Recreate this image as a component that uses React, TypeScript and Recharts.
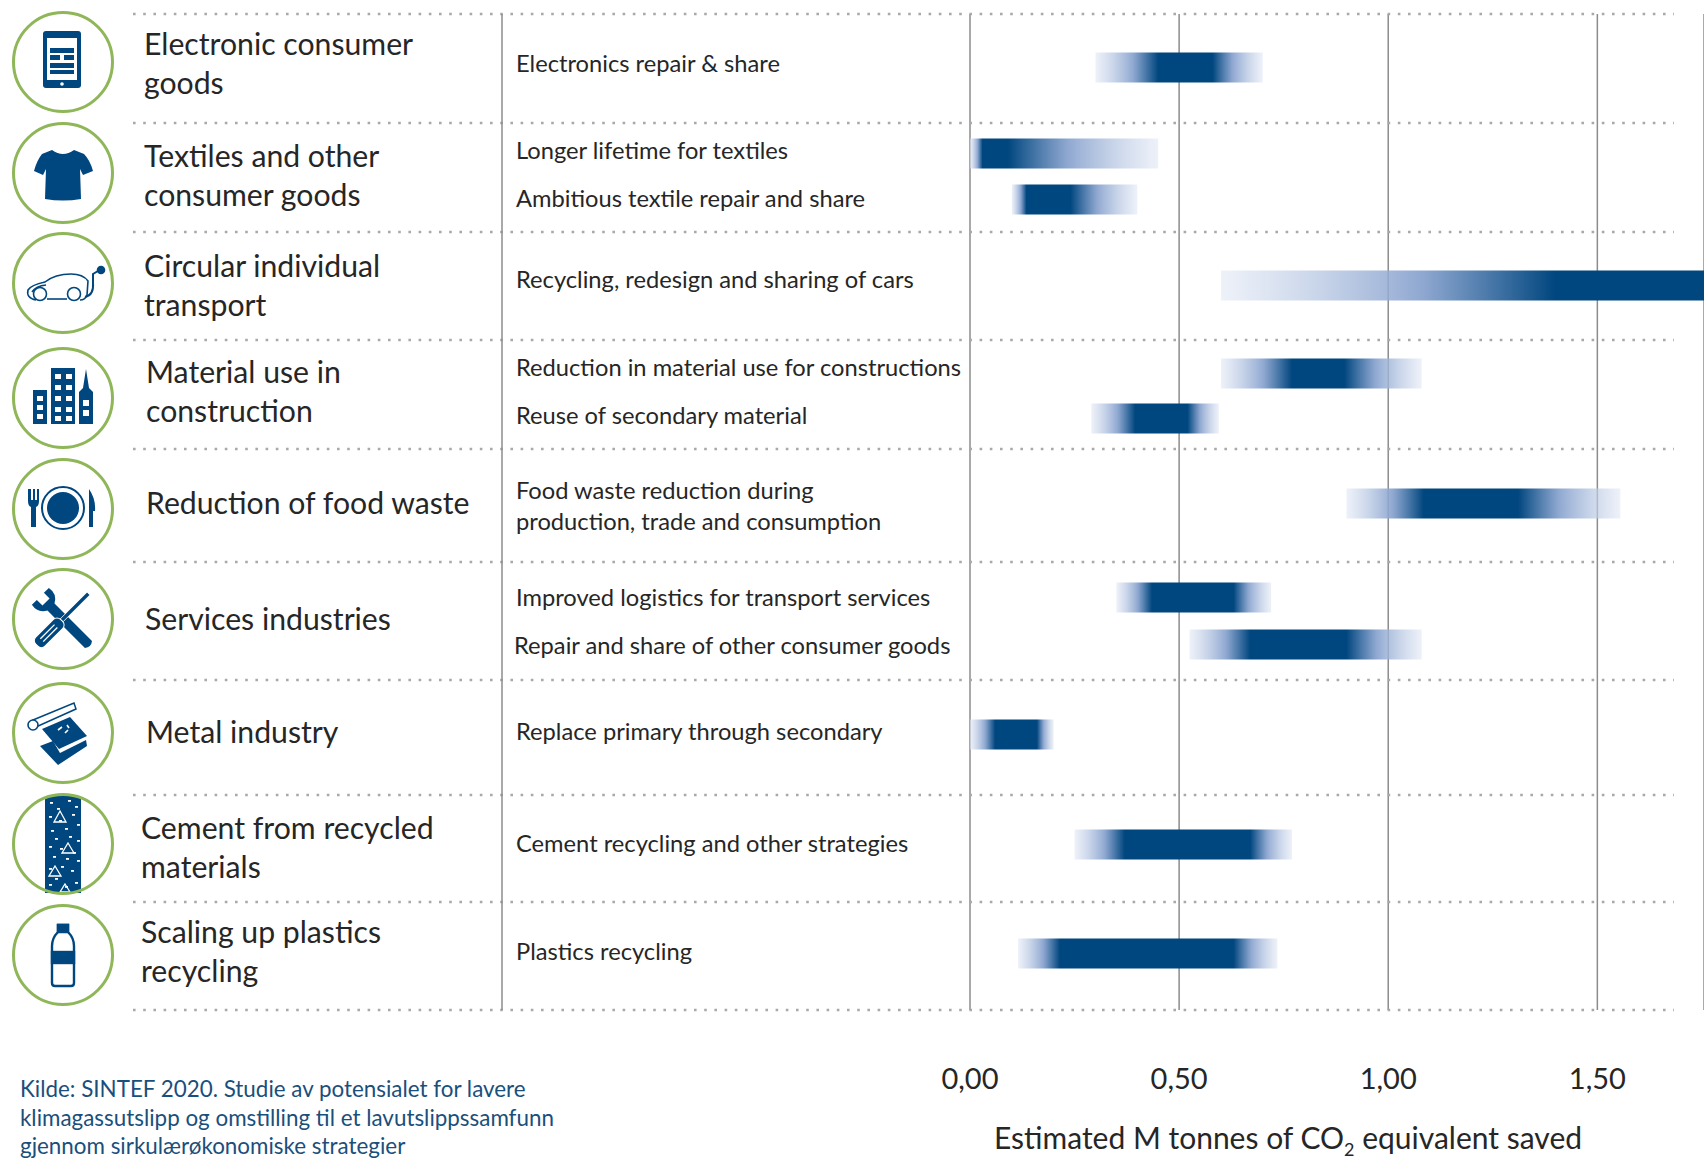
import React from "react";
import { ComposedChart, Bar, Cell, XAxis, YAxis, CartesianGrid } from "recharts";

const W = 1704;
const H = 1159;
const BLUE = "#00467f";
const GREEN = "#8fb659";
const FONT = "Lato, 'Open Sans', sans-serif";

// ---- data ----
const initiatives = [
  "Electronics repair & share",
  "Longer lifetime for textiles",
  "Ambitious textile repair and share",
  "Recycling, redesign and sharing of cars",
  "Reduction in material use for constructions",
  "Reuse of secondary material",
  "Food waste reduction",
  "Improved logistics for transport services",
  "Repair and share of other consumer goods",
  "Replace primary through secondary",
  "Cement recycling and other strategies",
  "Plastics recycling",
];
const lowEstimate = [0.3, 0.0, 0.1, 0.6, 0.6, 0.29, 0.9, 0.35, 0.525, 0.0, 0.25, 0.115];
const coreStart = [0.45, 0.03, 0.135, 1.4, 0.77, 0.395, 1.085, 0.435, 0.67, 0.06, 0.37, 0.215];
const coreEnd = [0.58, 0.09, 0.24, 1.755, 0.895, 0.52, 1.31, 0.63, 0.9, 0.16, 0.67, 0.63];
const highEstimate = [0.7, 0.45, 0.4, 1.755, 1.08, 0.595, 1.555, 0.72, 1.08, 0.2, 0.77, 0.735];
const rowCentre = [5.32, 13.96, 18.57, 27.2, 36.04, 40.56, 49.1, 58.53, 63.25, 72.29, 83.33, 94.28];
const xTicks = [0, 0.5, 1, 1.5];
const categoryLabels = [
  ["Electronic consumer", "goods"],
  ["Textiles and other", "consumer goods"],
  ["Circular individual", "transport"],
  ["Material use in", "construction"],
  ["Reduction of food waste"],
  ["Services industries"],
  ["Metal industry"],
  ["Cement from recycled", "materials"],
  ["Scaling up plastics", "recycling"],
];
const initiativeLabels = [
  ["Electronics repair & share"],
  ["Longer lifetime for textiles"],
  ["Ambitious textile repair and share"],
  ["Recycling, redesign and sharing of cars"],
  ["Reduction in material use for constructions"],
  ["Reuse of secondary material"],
  ["Food waste reduction during"],
  ["production, trade and consumption"],
  ["Improved logistics for transport services"],
  ["Repair and share of other consumer goods"],
  ["Replace primary through secondary"],
  ["Cement recycling and other strategies"],
  ["Plastics recycling"],
];
const sourceLines = [
  "Kilde: SINTEF 2020. Studie av potensialet for lavere",
  "klimagassutslipp og omstilling til et lavutslippssamfunn",
  "gjennom sirkulærøkonomiske strategier",
];

const chartData = initiatives.map((name, i) => ({
  name,
  rowCentre: rowCentre[i],
  range: [lowEstimate[i], highEstimate[i]],
}));

// ---- layout of the decoration ----
const separatorY = [14, 123, 232, 340, 449, 562, 680, 795, 902, 1010];
const circleY = [62, 173, 283, 398, 509, 619, 733, 844, 955];
const categoryY = [
  [47, 86], [159, 198], [269, 308], [375, 414], [506], [622], [735], [831, 870], [935, 974],
];
const categoryX = [144, 144, 144, 146, 146, 145, 146, 141, 141];
const initiativeY = [66, 153, 201, 282, 370, 418, 493, 524, 600, 648, 734, 846, 954];

const Icon = ({ i }: { i: number }) => {
  switch (i) {
    case 0:
      return (
        <g>
          <rect x={-20} y={-31} width={38} height={57} rx={3} fill={BLUE} />
          <rect x={-16} y={-24} width={30} height={42} fill="#fff" />
          <rect x={-13} y={-14} width={24} height={5} fill={BLUE} />
          <rect x={-13} y={-7} width={10} height={5} fill={BLUE} />
          <rect x={1} y={-7} width={10} height={5} fill={BLUE} />
          <rect x={-13} y={1} width={24} height={5} fill={BLUE} />
          <rect x={-13} y={8} width={24} height={4} fill={BLUE} />
          <circle cx={-1} cy={22} r={1.8} fill="#fff" />
        </g>
      );
    case 1:
      return (
        <path
          d="M-11,-23 Q0,-15 11,-23 L21,-19 Q27,-13 30,-2 L20,2 L17,-4 L18,26 Q0,29 -18,26 L-17,-4 L-20,2 L-29,-2 Q-26,-13 -21,-19 Z"
          fill={BLUE}
        />
      );
    case 2:
      return (
        <g fill="none" stroke={BLUE} strokeWidth={1.6}>
          <path d="M-27,17 Q-37,15 -35,7 Q-32,2 -18,-1 Q-8,-9 8,-9 Q20,-9 25,-2 L24,12 Q22,17 17,17" />
          <path d="M-31,9 Q-27,3 -17,2" />
          <circle cx={-23} cy={11} r={6.5} />
          <circle cx={11} cy={11} r={6.5} />
          <path d="M-16,16 L4,16" />
          <path d="M22,14 Q31,12 30,0 L30,-9 L35,-12" strokeWidth={2} />
          <circle cx={38} cy={-13} r={3.5} fill={BLUE} />
        </g>
      );
    case 3:
      return (
        <g>
          <rect x={-30} y={-8} width={14} height={34} fill={BLUE} />
          <rect x={-12} y={-30} width={24} height={56} fill={BLUE} />
          <path d="M16,26 L16,-6 L20,-10 L23,-29 L26,-10 L30,-6 L30,26 Z" fill={BLUE} />
          {[-2, 7, 16].map((y) => (
            <rect key={y} x={-26} y={y} width={6} height={5} fill="#fff" />
          ))}
          {[-24, -13, -2, 9, 18].map((y) =>
            [-8, 3].map((x) => <rect key={`${x}${y}`} x={x} y={y} width={6} height={5} fill="#fff" />)
          )}
          {[2, 12].map((y) => (
            <rect key={y} x={20} y={y} width={6} height={6} fill="#fff" />
          ))}
        </g>
      );
    case 4:
      return (
        <g fill={BLUE}>
          <circle cx={0} cy={-1} r={16} />
          <circle cx={0} cy={-1} r={21} fill="none" stroke={BLUE} strokeWidth={2} />
          <path d="M-35,-20 L-35,-8 Q-35,-3 -32,-2 L-32,18 L-27,18 L-27,-2 Q-24,-3 -24,-8 L-24,-20 L-26,-20 L-26,-9 L-28,-9 L-28,-20 L-30,-20 L-30,-9 L-32,-9 L-32,-20 Z" />
          <path d="M26,-20 Q33,-10 32,2 L30,2 L30,18 L26,18 Z" />
        </g>
      );
    case 5:
      return (
        <g>
          <g transform="rotate(-45)">
            <path d="M-5,-32 L-12,-32 Q-14,-22 -5,-17 L-5,36 Q0,40 5,36 L5,-17 Q14,-22 12,-32 L5,-32 L5,-24 L-5,-24 Z" fill={BLUE} />
          </g>
          <g transform="rotate(45)">
            <rect x={-2} y={-36} width={4} height={38} fill={BLUE} stroke="#fff" strokeWidth={0.8} />
            <rect x={-6.5} y={2} width={13} height={35} rx={5} fill={BLUE} stroke="#fff" strokeWidth={1} />
            <path d="M-2,10 L-2,30 M2,10 L2,30" stroke="#fff" strokeWidth={1.3} />
          </g>
        </g>
      );
    case 6:
      return (
        <g>
          <path d="M-30,-13 L11,-30 L13,-24 L-27,-6 Z" fill="#fff" stroke={BLUE} strokeWidth={1.5} />
          <circle cx={-30} cy={-8} r={5} fill="#fff" stroke={BLUE} strokeWidth={1.6} />
          <path d="M-21,-4 L7,-16 L24,3 L-4,16 Z" fill={BLUE} />
          <path d="M-23,13 L-10,8 L-3,20 L23,7 L24,13 L-5,32 Z" fill={BLUE} />
          <path d="M-5,-3 L-1,-6 M4,-8 L6,-5 M2,0 L5,-3" stroke="#fff" strokeWidth={1.6} />
        </g>
      );
    case 7: {
      const specks = [
        [-13, -42], [-6, -36], [5, -44], [12, -38], [-14, -28], [-4, -24], [9, -30], [14, -20],
        [-12, -14], [2, -16], [-8, -6], [6, -8], [14, -4], [-14, 2], [-3, 4], [10, 8],
        [-10, 12], [3, 14], [14, 16], [-14, 24], [-2, 22], [8, 26], [-8, 34], [12, 38], [-14, 40], [2, 42],
      ];
      return (
        <g>
          <rect x={-18} y={-48} width={36} height={97} fill={BLUE} />
          {specks.map(([x, y]) => (
            <rect key={`${x}_${y}`} x={x} y={y} width={3} height={1.8} fill="#fff" />
          ))}
          <path d="M-3,-33 L3,-22 L-9,-22 Z M5,-1 L11,9 L-1,9 Z M-8,22 L-2,32 L-14,32 Z M2,40 L7,48 L-3,48 Z" fill="none" stroke="#fff" strokeWidth={1.3} />
        </g>
      );
    }
    default:
      return (
        <g fill="none" stroke={BLUE} strokeWidth={2.4}>
          <path d="M-5,-30 L5,-30 L5,-23 Q11,-17 11,-9 L11,28 Q11,31 8,31 L-8,31 Q-11,31 -11,28 L-11,-9 Q-11,-17 -5,-23 Z" />
          <rect x={-11} y={-3} width={22} height={11} fill={BLUE} />
          <path d="M-5,-30 L5,-30 L5,-23 L-5,-23 Z" fill={BLUE} />
        </g>
      );
  }
};

const Backdrop = () => (
  <g>
    <defs>
      {initiatives.map((_, i) => {
        const span = highEstimate[i] - lowEstimate[i];
        const a = (coreStart[i] - lowEstimate[i]) / span;
        const b = (coreEnd[i] - lowEstimate[i]) / span;
        return (
          <linearGradient key={i} id={`band${i}`} x1="0" y1="0" x2="1" y2="0">
            <stop offset={0} stopColor="#dfe6f4" stopOpacity={0.55} />
            <stop offset={a * 0.6} stopColor="#86a1cd" stopOpacity={0.92} />
            <stop offset={a} stopColor={BLUE} />
            <stop offset={b} stopColor={BLUE} />
            <stop offset={b + (1 - b) * 0.4} stopColor="#86a1cd" stopOpacity={0.92} />
            <stop offset={1} stopColor="#dfe6f4" stopOpacity={0.55} />
          </linearGradient>
        );
      })}
    </defs>
    {separatorY.map((y) => (
      <line key={y} x1={133} x2={1674} y1={y} y2={y} stroke="#a9a9a9" strokeWidth={2.4} strokeDasharray="2.6 7.6" />
    ))}
    <line x1={502} x2={502} y1={14} y2={1010} stroke="#8c8c8c" strokeWidth={1.5} />
    {circleY.map((cy, i) => (
      <g key={cy} transform={`translate(63,${cy})`}>
        <Icon i={i} />
        <circle r={49.5} fill="none" stroke={GREEN} strokeWidth={3} />
      </g>
    ))}
    {categoryLabels.map((lines, i) =>
      lines.map((t, j) => (
        <text key={t} x={categoryX[i]} y={categoryY[i][j]} dominantBaseline="middle" fontFamily={FONT} fontSize={30.2} fill="#262626">
          {t}
        </text>
      ))
    )}
    {initiativeLabels.map(([t], i) => (
      <text key={t} x={t.startsWith("Repair") ? 514 : 516} y={initiativeY[i]} dominantBaseline="middle" fontFamily={FONT} fontSize={23.7} fill="#262626">
        {t}
      </text>
    ))}
    {sourceLines.map((t, i) => (
      <text key={t} x={20} y={[1097, 1125.5, 1153.5][i]} fontFamily={FONT} fontSize={22.4} fill="#1a4f7c">
        {t}
      </text>
    ))}
    <text x={1288} y={1149} textAnchor="middle" fontFamily={FONT} fontSize={30} fill="#262626">
      Estimated M tonnes of CO
      <tspan fontSize={18} dy={7}>2</tspan>
      <tspan dy={-7}> equivalent saved</tspan>
    </text>
  </g>
);

export default function App() {
  return (
    <div style={{ position: "absolute", left: 0, top: 0, width: W, height: H, overflow: "hidden", background: "#fff" }}>
      <ComposedChart
        width={W}
        height={H}
        data={chartData}
        layout="vertical"
        margin={{ top: 14, right: 0, bottom: 0, left: 970 }}
      >
        <Backdrop />
        <CartesianGrid horizontal={false} stroke="#8c8c8c" strokeWidth={1.5} />
        <XAxis
          type="number"
          domain={[0, 1.755]}
          ticks={xTicks}
          interval={0}
          height={149}
          axisLine={false}
          tickLine={false}
          tickMargin={52}
          tickFormatter={(v: number) => v.toFixed(2).replace(".", ",")}
          tick={{ fontFamily: FONT, fontSize: 29, fill: "#262626" }}
        />
        <YAxis type="number" dataKey="rowCentre" domain={[0, 100]} hide />
        <Bar dataKey="range" barSize={30} isAnimationActive={false}>
          {chartData.map((_, i) => (
            <Cell key={i} fill={`url(#band${i})`} />
          ))}
        </Bar>
      </ComposedChart>
    </div>
  );
}
